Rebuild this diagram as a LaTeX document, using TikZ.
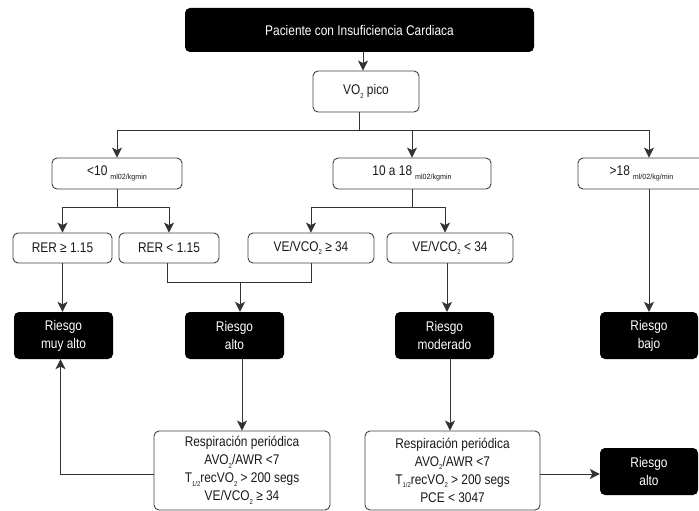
\documentclass[tikz,border=0pt]{standalone}
\usepackage{fontspec}
\setmainfont{Liberation Sans}[FakeStretch=0.85]
\newfontfamily\unitfont{Liberation Sans}[FakeStretch=0.95]
\usetikzlibrary{arrows.meta,calc}
\newcommand\lsub[1]{\raisebox{-0.45ex}{\fontsize{7}{7}\selectfont #1}}
\newcommand\unitsub[1]{\hspace{3pt}\raisebox{-4pt}{\unitfont\fontsize{7.5}{8}\selectfont #1}}
\begin{document}
\begin{tikzpicture}[x=1pt,y=-1pt, font=\fontsize{14}{18}\selectfont,
 wbox/.style={draw=black!75, line width=0.9pt, fill=white, rounded corners=5pt, inner sep=0pt, align=center, text=black!90},
 bbox/.style={fill=black, rounded corners=5pt, inner sep=0pt, align=center, text=white},
 arr/.style={draw=black!80, line width=0.9pt, -{Stealth[length=10pt,width=10pt,inset=2.5pt]}},
 ln/.style={draw=black!80, line width=0.9pt}]
\useasboundingbox (0,0) rectangle (699,511);
% nodes
\node[bbox, minimum width=349pt, minimum height=44pt] (top) at (359.5,30) {Paciente con Insuficiencia Cardiaca};
\node[wbox, minimum width=106pt, minimum height=41pt] (vo2) at (366,91.5) {VO\lsub{2} pico};
\node[wbox, minimum width=130pt, minimum height=31pt] (lt10) at (117,173.5) {<10\unitsub{ml02/kgmin}};
\node[wbox, minimum width=158pt, minimum height=31pt] (mid) at (412,173.5) {10 a 18\unitsub{ml02/kgmin}};
\node[wbox, minimum width=142pt, minimum height=31pt] (gt18) at (649,173.5) {\hspace*{-15pt}>18\unitsub{ml/02/kg/min}};
\node[wbox, minimum width=99pt, minimum height=30pt] (rge) at (62.5,248) {RER ≥ 1.15};
\node[wbox, minimum width=100pt, minimum height=30pt] (rlt) at (169,248) {RER < 1.15};
\node[wbox, minimum width=126pt, minimum height=30pt] (vge) at (311,248) {VE/VCO\lsub{2} ≥ 34};
\node[wbox, minimum width=126pt, minimum height=30pt] (vlt) at (450,248) {VE/VCO\lsub{2} < 34};
\node[bbox, minimum width=99pt, minimum height=47pt] (muyalto) at (63.5,335.5) {Riesgo\\muy alto};
\node[bbox, minimum width=99pt, minimum height=47pt] (alto) at (234.5,335.5) {Riesgo\\alto};
\node[bbox, minimum width=99pt, minimum height=47pt] (mod) at (444.5,335.5) {Riesgo\\moderado};
\node[bbox, minimum width=98pt, minimum height=47pt] (bajo) at (649,335.5) {Riesgo\\bajo};
\node[wbox, minimum width=176pt, minimum height=79pt] (resp1) at (242,470.5) {Respiración periódica\\AVO\lsub{2}/AWR <7\\T\lsub{1/2}recVO\lsub{2} > 200 segs\\VE/VCO\lsub{2} ≥ 34};
\node[wbox, minimum width=175pt, minimum height=79pt] (resp2) at (452.5,470.5) {Respiración periódica\\AVO\lsub{2}/AWR <7\\T\lsub{1/2}recVO\lsub{2} > 200 segs\\PCE < 3047};
\node[bbox, minimum width=98pt, minimum height=47pt] (alto2) at (649,471.5) {Riesgo\\alto};
% connectors
\draw[arr] ([xshift=-3pt]vo2.north |- top.south) -- ([xshift=-3pt]vo2.north);
\draw[ln] ([xshift=-7pt]vo2.south) -- ++(0,18) coordinate (hub);
\draw[arr] (hub) -| (lt10.north);
\draw[arr] (hub) -| (mid.north);
\draw[arr] (hub) -| (gt18.north);
\draw[ln] (lt10.south) -- ++(0,18) coordinate (h2);
\draw[arr] (h2) -| (rge.north);
\draw[arr] (h2) -| (rlt.north);
\draw[ln] (mid.south) -- ++(0,18) coordinate (h3);
\draw[arr] (h3) -| (vge.north);
\draw[arr] (h3) -| ([xshift=-5pt]vlt.north);
\draw[arr] (rge.south) -- (rge.south |- muyalto.north);
\coordinate (j) at ($(rlt.south)!0.5!(vge.south)+(0,19)$);
\draw[ln] ([xshift=-2pt]rlt.south) |- (j -| vge.south) -- (vge.south);
\draw[arr] (j) -- (j |- alto.north);
\draw[arr] ([xshift=-3pt]vlt.south) -- ([xshift=-3pt]vlt.south |- mod.north);
\draw[arr] (gt18.south) -- (bajo.north);
\draw[arr] (resp1.north |- alto.south) -- (resp1.north);
\draw[arr] ([xshift=-2.5pt]resp2.north |- mod.south) -- ([xshift=-2.5pt]resp2.north);
\draw[arr] ([yshift=-3.5pt]resp1.west) -| ([xshift=-3pt]muyalto.south);
\draw[arr] ([yshift=-3.5pt]resp2.east) -- ([yshift=-3.5pt]resp2.east -| alto2.west);
\end{tikzpicture}
\end{document}
